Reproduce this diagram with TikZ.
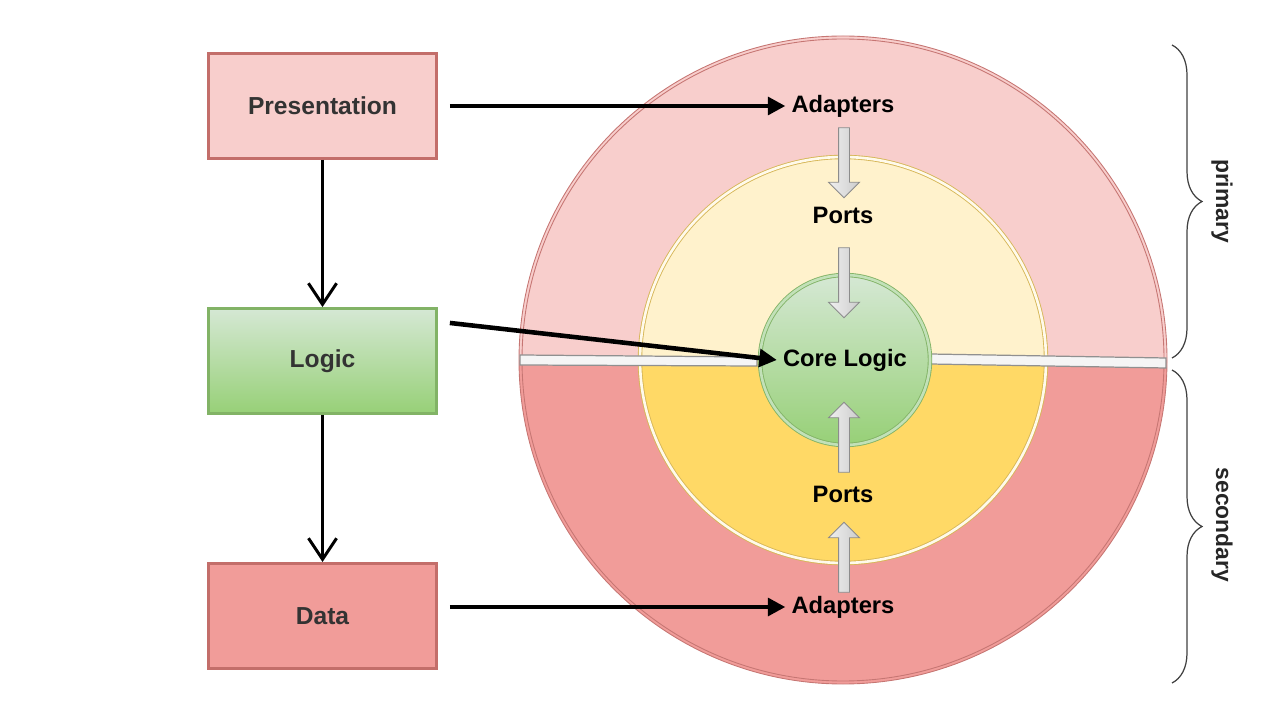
\documentclass[tikz,border=0pt]{standalone}
\usepackage{fontspec}
\setmainfont{Liberation Sans}
\usetikzlibrary{shapes.arrows,arrows.meta,decorations.pathreplacing,positioning}
\definecolor{pinklight}{HTML}{F8CECC}
\definecolor{pinkdark}{HTML}{F19C99}
\definecolor{redline}{HTML}{B85450}
\definecolor{yellowlight}{HTML}{FFF2CC}
\definecolor{yellowdark}{HTML}{FFD966}
\definecolor{goldline}{HTML}{D6B656}
\definecolor{greentop}{HTML}{D5E8D4}
\definecolor{greenbottom}{HTML}{97D077}
\definecolor{greenline}{HTML}{82B366}
\definecolor{barfill}{HTML}{F5F5F5}
\definecolor{barline}{HTML}{909090}
\tikzstyle{boxpink} = [rectangle,minimum width=4.56cm,minimum height=2.1cm,draw=redline!85,line width=1.6pt,fill=pinklight,text=black!80,font=\bfseries\fontsize{14}{16}\selectfont]
\tikzstyle{boxred} = [boxpink,fill=pinkdark]
\tikzstyle{boxgreen} = [boxpink,draw=greenline,top color=greentop,bottom color=greenbottom]
\tikzstyle{ringlabel} = [font=\bfseries\fontsize{13.5}{16}\selectfont,text=black]
\tikzstyle{sidelabel} = [font=\bfseries\fontsize{13}{15}\selectfont,text=black!85]
\tikzstyle{grayarrow} = [single arrow,draw=gray!90,left color=gray!12,right color=gray!40,minimum height=1.4cm,inner sep=0.1cm,single arrow head extend=0.2cm,line width=0.5pt]
\tikzstyle{blackarrow} = [line width=2.6pt,-{Triangle[length=10pt,width=10pt]}]
\tikzstyle{flowarrow} = [line width=1.7pt,-{Straight Barb[length=12pt,width=16pt]}]
\tikzstyle{sidebrace} = [decorate,decoration={brace,amplitude=0.6cm,aspect=0.5},draw=black!75,line width=0.7pt]

\begin{document}
\begin{tikzpicture}[x=0.02cm,y=0.02cm]
\useasboundingbox (0,0) rectangle (1280,720);

% outer ring, adapters
\fill[pinklight] (519,360) arc[start angle=180,end angle=0,radius=324] -- cycle;
\fill[pinkdark] (519,360) arc[start angle=180,end angle=360,radius=324] -- cycle;
\draw[redline!80,line width=0.5pt] (843,360) circle[radius=324];
\draw[redline!80,line width=0.5pt] (843,360) circle[radius=321];

% middle ring, ports
\fill[yellowlight] (639,360) arc[start angle=180,end angle=0,radius=204] -- cycle;
\fill[yellowdark] (639,360) arc[start angle=180,end angle=360,radius=204] -- cycle;
\draw[goldline,line width=0.5pt,double=white!60!yellowlight,double distance=1.5pt] (843,360) circle[radius=203];

% splitting bars
\draw[draw=barline,fill=barfill,line width=0.7pt] (520,365) -- (757,363) -- (757,354) -- (520,355) -- cycle;
\draw[draw=barline,fill=barfill,line width=0.7pt] (930,366) -- (1166,362) -- (1166,352) -- (930,356) -- cycle;

\node (core) [circle,minimum size=3.4cm,top color=greentop,bottom color=greenbottom,draw=greenline,double=greentop!70!greenbottom,double distance=1.5pt,line width=0.5pt] at (845,360) {};

\node (adaptup)   [ringlabel] at (843,614) {Adapters};
\node (portsup)   [ringlabel] at (843,505) {Ports};
\node (corelbl)   [ringlabel] at (845,360) {Core Logic};
\node (portsdown) [ringlabel] at (843,226) {Ports};
\node (adaptdown) [ringlabel] at (843,113) {Adapters};

\node (ga1) [grayarrow,rotate=-90] at (844,560) {};
\node (ga2) [grayarrow,rotate=-90] at (844,440) {};
\node (ga3) [grayarrow,rotate=90] at (844,280) {};
\node (ga4) [grayarrow,rotate=90] at (844,160) {};

% layers
\node (pres)  [boxpink] at (322.5,614) {Presentation};
\node (logic) [boxgreen,below of=pres,node distance=5.1cm] {Logic};
\node (data)  [boxred,below of=logic,node distance=5.1cm] {Data};

\draw[flowarrow] (pres) -- (logic);
\draw[flowarrow] (logic) -- (data);

\draw[blackarrow,shorten <=0.24cm] (pres.east |- adaptup) -- (adaptup.west);
\draw[blackarrow] ([xshift=0.24cm,yshift=0.76cm]logic.east) -- (corelbl.west);
\draw[blackarrow,shorten <=0.24cm] (data.east |- adaptdown) -- (adaptdown.west);

% braces
\coordinate (pritop) at (1172,675);
\coordinate (pribot) at (1172,362);
\coordinate (sectop) at (1172,350);
\coordinate (secbot) at (1172,37);
\draw[sidebrace] (pritop) -- (pribot);
\draw[sidebrace] (sectop) -- (secbot);
\node (prilbl) [sidelabel,rotate=-90] at (1222,519) {primary};
\node (seclbl) [sidelabel,rotate=-90] at (1222,195) {secondary};
\end{tikzpicture}
\end{document}
